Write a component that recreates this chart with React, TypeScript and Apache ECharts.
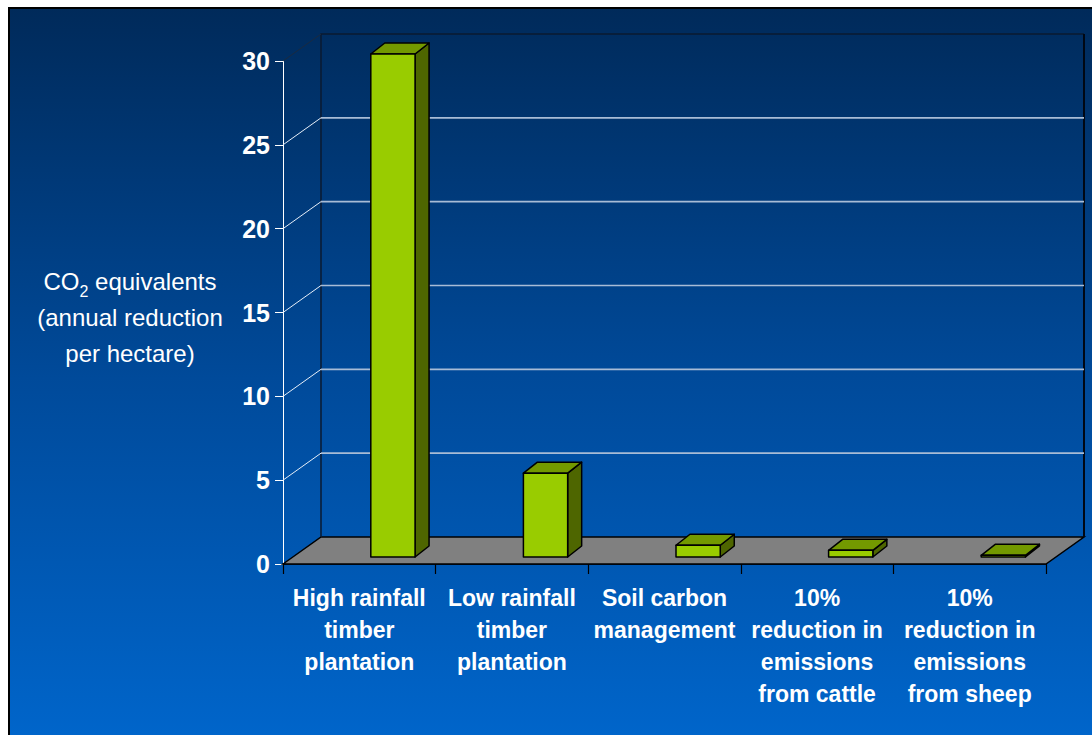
import React, { useEffect, useRef } from 'react';
import * as echarts from 'echarts';

const categories = [
  'High rainfall\ntimber\nplantation',
  'Low rainfall\ntimber\nplantation',
  'Soil carbon\nmanagement',
  '10%\nreduction in\nemissions\nfrom cattle',
  '10%\nreduction in\nemissions\nfrom sheep',
];
const values = [30, 5, 0.7, 0.4, 0.1];
const yMin = 0;
const yMax = 30;
const yInterval = 5;
const gridValues = [5, 10, 15, 20, 25];
const yTitleLines = ['CO', '2', ' equivalents', '(annual reduction', 'per hectare)'];

const FONT = '"Liberation Sans", Arial, Helvetica, sans-serif';

export default function App() {
  const ref = useRef<HTMLDivElement>(null);

  useEffect(() => {
    const chart = echarts.init(ref.current as HTMLDivElement, null, { renderer: 'svg' });
    const DX = 38;
    const DY = -27;
    const BAR_SHIFT_X = 11.5;
    const BAR_SHIFT_Y = -7;
    const BAR_DX = 14;
    const BAR_DY = -11;

    chart.setOption({
      animation: false,
      backgroundColor: '#ffffff',
      textStyle: { fontFamily: FONT },
      grid: { left: 283, right: 46, top: 61, bottom: 171 },
      xAxis: {
        type: 'category',
        data: categories,
        axisLine: { show: true, lineStyle: { color: '#000', width: 1.5 } },
        axisTick: { show: true, length: 10, lineStyle: { color: '#000', width: 1.2 } },
        axisLabel: {
          interval: 0,
          color: '#ffffff',
          fontWeight: 'bold',
          fontSize: 23,
          lineHeight: 32,
          margin: 18,
          fontFamily: FONT,
        },
        splitLine: { show: false },
      },
      yAxis: {
        type: 'value',
        min: yMin,
        max: yMax,
        interval: yInterval,
        axisLine: { show: true, lineStyle: { color: '#ffffff', width: 1 } },
        axisTick: { show: true, length: 8, lineStyle: { color: '#ffffff', width: 1 } },
        axisLabel: {
          color: '#ffffff',
          fontWeight: 'bold',
          fontSize: 25,
          margin: 13,
          fontFamily: FONT,
        },
        splitLine: { show: false },
      },
      series: [
        {
          type: 'custom',
          name: 'frame',
          z: 1,
          data: [[0, 0]],
          renderItem: (params: any, api: any) => {
            const cs = params.coordSys;
            const x0 = cs.x;
            const x1 = cs.x + cs.width;
            const yTop = cs.y;
            const yBot = cs.y + cs.height;
            return {
              type: 'group',
              children: [
                {
                  type: 'polygon',
                  shape: { points: [[x0, yBot], [x0 + DX, yBot + DY], [x1 + DX, yBot + DY], [x1, yBot]] },
                  style: { fill: '#808080', stroke: '#000', lineWidth: 1.5 },
                },
                {
                  type: 'polyline',
                  shape: { points: [[x0 + DX, yBot + DY], [x0 + DX, yTop + DY], [x1 + DX, yTop + DY]] },
                  style: { fill: 'none', stroke: '#0a1a30', lineWidth: 1.5 },
                },
                {
                  type: 'line',
                  shape: { x1: x1 + DX, y1: yTop + DY, x2: x1 + DX, y2: yBot + DY },
                  style: { stroke: '#000814', lineWidth: 2 },
                },
                {
                  type: 'line',
                  shape: { x1: x0, y1: yTop, x2: x0 + DX, y2: yTop + DY },
                  style: { stroke: '#1a2a40', lineWidth: 1 },
                },
              ],
            };
          },
        },
        {
          type: 'custom',
          name: 'gridlines',
          z: 2,
          data: gridValues.map((v) => [0, v]),
          renderItem: (params: any, api: any) => {
            const cs = params.coordSys;
            const x0 = cs.x;
            const x1 = cs.x + cs.width;
            const y = api.coord([0, api.value(1)])[1];
            return {
              type: 'group',
              children: [
                {
                  type: 'line',
                  shape: { x1: x0, y1: y, x2: x0 + DX, y2: y + DY },
                  style: { stroke: '#e6eef8', lineWidth: 1 },
                },
                {
                  type: 'line',
                  shape: { x1: x0 + DX, y1: y + DY, x2: x1 + DX, y2: y + DY },
                  style: { stroke: '#a8bcd6', lineWidth: 1.6 },
                },
              ],
            };
          },
        },
        {
          type: 'custom',
          name: 'CO2 equivalents',
          z: 3,
          data: values.map((v, i) => [i, v]),
          renderItem: (params: any, api: any) => {
            const i = api.value(0);
            const v = api.value(1);
            const top = api.coord([i, v]);
            const base = api.coord([i, 0]);
            const catW = api.size([1, 0])[0];
            const w = catW * 0.29;
            const xl = base[0] + BAR_SHIFT_X;
            const xr = xl + w;
            const yb = base[1] + BAR_SHIFT_Y;
            const yt = top[1] + BAR_SHIFT_Y;
            const stroke = { stroke: '#000', lineWidth: 1.5, lineJoin: 'round' };
            return {
              type: 'group',
              children: [
                {
                  type: 'polygon',
                  shape: { points: [[xr, yt], [xr + BAR_DX, yt + BAR_DY], [xr + BAR_DX, yb + BAR_DY], [xr, yb]] },
                  style: { fill: '#4e6600', ...stroke },
                },
                {
                  type: 'polygon',
                  shape: { points: [[xl, yt], [xl + BAR_DX, yt + BAR_DY], [xr + BAR_DX, yt + BAR_DY], [xr, yt]] },
                  style: { fill: '#739900', ...stroke },
                },
                {
                  type: 'polygon',
                  shape: { points: [[xl, yt], [xr, yt], [xr, yb], [xl, yb]] },
                  style: { fill: '#99cc00', ...stroke },
                },
              ],
            };
          },
        },
      ],
      graphic: [
        {
          type: 'rect',
          z: -10,
          silent: true,
          shape: { x: 9, y: 8, width: 1100, height: 740 },
          style: {
            fill: new echarts.graphic.LinearGradient(0, 0, 0, 1, [
              { offset: 0, color: '#002a5a' },
              { offset: 0.5, color: '#004a9a' },
              { offset: 1, color: '#0066cc' },
            ]),
            stroke: '#000',
            lineWidth: 2,
          },
        },
        {
          type: 'text',
          x: 130,
          y: 317,
          z: 10,
          style: {
            text:
              '{a|' + yTitleLines[0] + '}{s|' + yTitleLines[1] + '}{a|' + yTitleLines[2] + '}\n' +
              '{a|' + yTitleLines[3] + '}\n{a|' + yTitleLines[4] + '}',
            align: 'center',
            verticalAlign: 'middle',
            fill: '#ffffff',
            rich: {
              a: { fontSize: 24, lineHeight: 36, fill: '#ffffff', fontFamily: FONT },
              s: { fontSize: 16, lineHeight: 18, verticalAlign: 'bottom', fill: '#ffffff', fontFamily: FONT },
            },
          },
        },
      ],
    });

    return () => chart.dispose();
  }, []);

  return <div ref={ref} style={{ position: 'fixed', left: 0, top: 0, width: 1092, height: 735 }} />;
}
